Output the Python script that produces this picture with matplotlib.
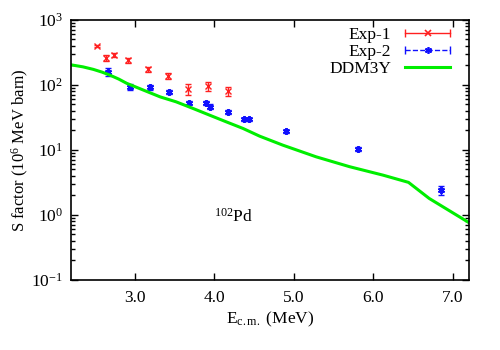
import numpy as np
import matplotlib
matplotlib.use("Agg")
import matplotlib.pyplot as plt
from matplotlib.legend_handler import HandlerBase
from matplotlib.lines import Line2D
from matplotlib.ticker import LogLocator, FixedLocator, NullFormatter

plt.rcParams['font.family'] = ['Liberation Serif', 'DejaVu Serif']
plt.rcParams['mathtext.fontset'] = 'custom'
plt.rcParams['mathtext.rm'] = 'Liberation Serif'
plt.rcParams['mathtext.it'] = 'Liberation Serif:italic'

# Exp-1 (red)
e1_x = [2.53, 2.64, 2.74, 2.92, 3.17, 3.42, 3.67, 3.92, 4.17]
e1_y = [392, 256, 285, 236, 174, 137, 85, 95, 80]
e1_err = [18, 28, 22, 20, 16, 15, 16, 14, 12]

# Exp-2 (blue)
e2_x = [2.66, 2.94, 3.19, 3.43, 3.68, 3.90, 3.94, 4.17, 4.37, 4.43, 4.90, 5.80, 6.85]
e2_y = [158, 93, 91, 77, 53, 52, 46, 38, 29.3, 29.3, 19.4, 10.4, 2.4]
e2_err = [22, 10, 8, 6, 4, 4, 4, 3, 1.5, 1.5, 1.0, 0.7, 0.4]

# DDM3Y curve
th_x = [2.2, 2.35, 2.48, 2.59, 2.69, 2.80, 2.90, 3.11, 3.32, 3.52, 3.73, 3.94,
        4.15, 4.36, 4.57, 4.86, 5.28, 5.70, 6.12, 6.44, 6.70, 7.2]
th_y = [202, 188, 172, 156, 140, 122, 105, 82.6, 65, 54.6, 43.3, 34.1,
        26.9, 21.3, 16.2, 11.8, 7.8, 5.5, 4.08, 3.16, 1.79, 0.76]

xticks = [3.0, 4.0, 5.0, 6.0, 7.0]

FS = 12.5
RED = '#ff2020'
BLUE = '#1010ff'
STAR = (6, 2, 0)


class HandlerGnu(HandlerBase):
    def __init__(self, color, ls, marker):
        super().__init__()
        self.color, self.ls, self.marker = color, ls, marker

    def create_artists(self, legend, orig_handle, xdescent, ydescent,
                       width, height, fontsize, trans):
        y = height / 2 - ydescent
        x0, x1 = -xdescent, -xdescent + width
        line = Line2D([x0, x1], [y, y], color=self.color, ls=self.ls, lw=1)
        caps = Line2D([x0, x1], [y, y], color=self.color, ls='none',
                      marker='|', markersize=6, mew=1)
        mk = Line2D([(x0 + x1) / 2], [y], color=self.color, ls='none',
                    marker=self.marker, markersize=5, mew=1.2)
        arts = [line, caps, mk]
        for a in arts:
            a.set_transform(trans)
        return arts


fig = plt.figure(figsize=(5, 3.5), dpi=100)
ax = fig.add_axes([0.142, 0.2, 0.796, 0.744])

h1 = ax.errorbar(e1_x, e1_y, yerr=e1_err, fmt='none', ecolor=RED,
                 elinewidth=1, capsize=2.5)
ax.plot(e1_x, e1_y, ls='none', marker='x', color=RED, markersize=4, mew=1)
h2 = ax.errorbar(e2_x, e2_y, yerr=e2_err, fmt='none', ecolor=BLUE,
                 elinewidth=1, capsize=2.5)
ax.plot(e2_x, e2_y, ls='none', marker=STAR, color=BLUE, markersize=5, mew=1.4)
h3, = ax.plot(th_x, th_y, color='#00ee00', lw=2.2)

ax.set_yscale('log')
ax.set_xlim(2.2, 7.2)
ax.set_ylim(0.1, 1000)
ax.xaxis.set_major_locator(FixedLocator(xticks))
ax.set_xticklabels([f"{t:.1f}" for t in xticks])
ax.yaxis.set_major_locator(LogLocator(base=10, numticks=10))
ax.yaxis.set_minor_locator(LogLocator(base=10, subs=np.arange(2, 10), numticks=20))
ax.yaxis.set_minor_formatter(NullFormatter())
ax.tick_params(which='both', direction='in', top=True, right=True,
               labelsize=FS, width=1)
ax.tick_params(which='major', length=5)
ax.tick_params(which='minor', length=3)
ax.tick_params(axis='x', pad=7)
ax.tick_params(axis='y', pad=6)
for s in ax.spines.values():
    s.set_linewidth(1.2)

ax.set_xlabel(r"E$_{\mathrm{c.m.}}$ (MeV)", fontsize=FS, labelpad=3)
ax.set_ylabel(r"S factor (10$^{6}$ MeV barn)", fontsize=12, labelpad=0)
ax.text(0.36, 0.225, r"$^{102}$Pd", transform=ax.transAxes, fontsize=FS,
        va='baseline')

ax.legend([h1, h2, h3], ["Exp-1", "Exp-2", "DDM3Y"],
          handler_map={h1: HandlerGnu(RED, '-', 'x'),
                       h2: HandlerGnu(BLUE, '--', STAR)},
          loc='upper right', bbox_to_anchor=(0.97, 1.0), frameon=False,
          markerfirst=False, fontsize=FS, handlelength=2.6, handletextpad=0.8,
          labelspacing=0.05, borderpad=0.1, borderaxespad=0.3)

fig.savefig('out.png', dpi=100)
